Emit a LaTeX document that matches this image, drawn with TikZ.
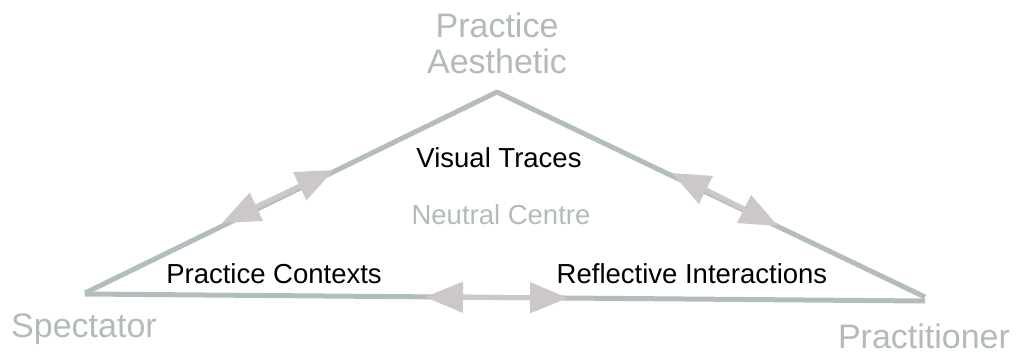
\documentclass[tikz,border=0pt]{standalone}
\usepackage{fontspec}
\setmainfont{Liberation Sans}
\usetikzlibrary{arrows.meta}
\definecolor{edgegray}{HTML}{B4BEB9}
\definecolor{labelgray}{HTML}{B3BBB7}
\definecolor{arrowgray}{HTML}{CCC8C8}
\newcommand\polefont{\fontsize{34}{36}\selectfont}
\newcommand\areafont{\fontsize{27.5}{30}\selectfont}
\tikzset{
 edge/.style={draw=edgegray,line width=5pt},
 twoway/.style={<->,draw=arrowgray,line width=5pt},
 pole/.style={text=labelgray,font=\polefont,align=center,anchor=base,inner sep=0pt},
 area/.style={font=\areafont,anchor=base,inner sep=0pt}
}
\begin{document}
\begin{tikzpicture}[x=1pt,y=-1pt,line join=round,>={Triangle[length=38pt,width=30pt]}]
 \useasboundingbox (0,0) rectangle (1022,354);
 % corners of the triangle
 \coordinate (L) at (85,293);
 \coordinate (T) at (497,92);
 \coordinate (R) at (925,297);
 \coordinate (Lb) at (85,294);
 \coordinate (Rb) at (925,301);
 \draw[edge] (L)--(T)--(R);
 \draw[edge] (Lb)--(Rb);
 % ends of the double arrows
 \coordinate (la) at (222,223); \coordinate (lb) at (334,170);
 \coordinate (ra) at (672,173); \coordinate (rb) at (778,226);
 \coordinate (ba) at (425,297); \coordinate (bb) at (568,298);
 \draw[twoway] (la)--(lb);
 \draw[twoway] (ra)--(rb);
 \draw[twoway] (ba)--(bb);
 % labels
 \node[pole] (aes) at (497,73) {Practice\\Aesthetic};
 \node[pole] (spec) at (84,337) {Spectator};
 \node[pole] (prac) at (924,348) {Practitioner};
 \node[area] (vis) at (499,167) {Visual Traces};
 \node[area,text=labelgray] (neu) at (501,224) {Neutral Centre};
 \node[area] (ctx) at (274,283) {Practice Contexts};
 \node[area] (ref) at (692,283) {Reflective Interactions};
\end{tikzpicture}
\end{document}
